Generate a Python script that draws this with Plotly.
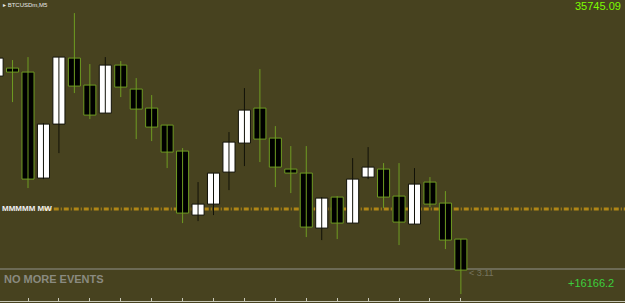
import plotly.graph_objects as go

# ---- data (BTCUSDm, M5) ----
idx = list(range(31))
opens  = [35669, 35677, 35673, 35567, 35621, 35687, 35660, 35632, 35680, 35656,
          35637, 35620, 35594, 35530, 35541, 35573, 35602, 35637, 35607, 35576,
          35572, 35517, 35548, 35522, 35568, 35576, 35549, 35521, 35563, 35542, 35506]
highs  = [35689, 35685, 35688, 35622, 35688, 35732, 35681, 35688, 35684, 35667,
          35650, 35620, 35597, 35563, 35572, 35613, 35657, 35676, 35619, 35599,
          35599, 35548, 35549, 35587, 35598, 35582, 35582, 35577, 35568, 35554, 35506]
lows   = [35667, 35643, 35557, 35566, 35592, 35652, 35626, 35632, 35648, 35606,
          35604, 35577, 35522, 35524, 35530, 35555, 35579, 35583, 35558, 35552,
          35508, 35505, 35506, 35522, 35566, 35537, 35500, 35521, 35538, 35496, 35451]
closes = [35687, 35673, 35566, 35621, 35688, 35659, 35630, 35680, 35658, 35636,
          35618, 35593, 35532, 35541, 35572, 35603, 35635, 35606, 35578, 35572,
          35518, 35547, 35522, 35566, 35578, 35548, 35523, 35561, 35541, 35505, 35475]
tick_idx = list(range(2, 31, 2))

TOP_PRICE = 35745.09
BID_LEVEL = 35476
ORDER_LEVEL = 35536
PROFIT = "+16166.2"
SYMBOL = "BTCUSDm,M5"

BG = "#47421f"
GREEN = "#6f9c22"
UPLINE = "#111108"

up = [i for i in idx if closes[i] >= opens[i]]
dn = [i for i in idx if closes[i] < opens[i]]

def wicks(sel):
    xs, ys = [], []
    for i in sel:
        xs += [i, i, None]
        ys += [highs[i], lows[i], None]
    return xs, ys

fig = go.Figure()
for sel, col in ((up, UPLINE), (dn, GREEN)):
    wx, wy = wicks(sel)
    fig.add_trace(go.Scatter(x=wx, y=wy, mode="lines", line=dict(color=col, width=1),
                             hoverinfo="skip", showlegend=False))

fig.add_trace(go.Bar(x=up, base=[opens[i] for i in up],
                     y=[closes[i] - opens[i] for i in up], width=0.78,
                     marker=dict(color="#ffffff", line=dict(color=UPLINE, width=1)),
                     showlegend=False))
fig.add_trace(go.Bar(x=dn, base=[closes[i] for i in dn],
                     y=[opens[i] - closes[i] for i in dn], width=0.78,
                     marker=dict(color="#000000", line=dict(color=GREEN, width=1)),
                     showlegend=False))

H = 301
fig.update_layout(
    width=625, height=303, margin=dict(l=0, r=0, t=0, b=2),
    paper_bgcolor=BG, plot_bgcolor=BG, barmode="overlay",
    font=dict(family="Liberation Sans, Arial, sans-serif"),
    xaxis=dict(range=[0.189, 40.617], showgrid=False, zeroline=False,
               tickvals=tick_idx, ticktext=[""] * len(tick_idx), ticks="inside",
               ticklen=3, tickcolor="#c8c8b8", showline=True, linecolor="#c8c8b8",
               linewidth=1, fixedrange=True),
    yaxis=dict(range=[TOP_PRICE - H, TOP_PRICE], showgrid=False, zeroline=False,
               showticklabels=False, fixedrange=True),
    shapes=[
        dict(type="line", xref="paper", x0=0, x1=1, yref="y", y0=BID_LEVEL, y1=BID_LEVEL,
             line=dict(color="#6c6a55", width=2), layer="below"),
        dict(type="line", xref="paper", x0=0.07, x1=1, yref="y", y0=ORDER_LEVEL, y1=ORDER_LEVEL,
             line=dict(color="#b08616", width=3, dash="5px,2px,1px,2px"), layer="below"),
    ],
    annotations=[
        dict(text="▸ " + SYMBOL, xref="paper", yref="paper", x=0.002, y=1, xanchor="left",
             yanchor="top", showarrow=False, font=dict(size=6, color="#e8e8e8")),
        dict(text=f"{TOP_PRICE:.2f}", xref="paper", yref="paper", x=0.997, y=1.005,
             xanchor="right", yanchor="top", showarrow=False,
             font=dict(size=11, color="#7cfc00")),
        dict(text="<b>NO MORE EVENTS</b>", xref="paper", yref="y", x=0.003, y=BID_LEVEL - 10,
             xanchor="left", yanchor="middle", showarrow=False,
             font=dict(size=11, color="#8a8a80")),
        dict(text="<b>MMMMM MW</b>", xref="paper", yref="y", x=0.0, y=ORDER_LEVEL + 1,
             xanchor="left", yanchor="middle", showarrow=False,
             font=dict(size=8, color="#f0f0f0")),
        dict(text="< 3.11", xref="x", yref="y", x=30.4, y=BID_LEVEL - 4,
             xanchor="left", yanchor="middle", showarrow=False,
             font=dict(size=9, color="#76745e")),
        dict(text=PROFIT, xref="paper", yref="y", x=0.985, y=BID_LEVEL - 14,
             xanchor="right", yanchor="middle", showarrow=False,
             font=dict(size=11, color="#3ccf3c")),
    ],
)

fig.write_html("out.html")
